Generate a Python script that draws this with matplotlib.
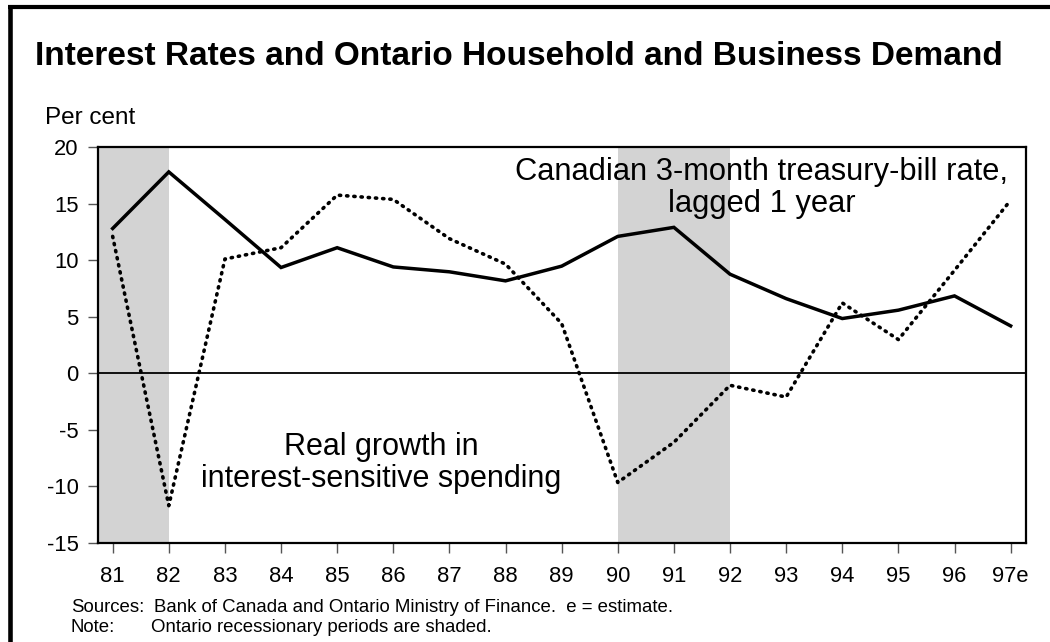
import matplotlib.pyplot as plt
from matplotlib.lines import Line2D

plt.rcParams['font.family'] = ['Liberation Sans', 'DejaVu Sans']
plt.rcParams['axes.unicode_minus'] = False

years = [81, 82, 83, 84, 85, 86, 87, 88, 89, 90, 91, 92, 93, 94, 95, 96, 97]
year_labels = ["81", "82", "83", "84", "85", "86", "87", "88", "89",
               "90", "91", "92", "93", "94", "95", "96", "97e"]
# Canadian 3-month treasury-bill rate, lagged 1 year
tbill = [12.8, 17.8, 13.6, 9.35, 11.1, 9.4, 8.97, 8.17, 9.47,
         12.1, 12.9, 8.76, 6.6, 4.84, 5.58, 6.84, 4.19]
# real growth in interest-sensitive spending
spending = [12.1, -11.7, 10.1, 11.1, 15.75, 15.37, 11.9, 9.65, 4.4,
            -9.65, -6.1, -1.06, -2.1, 6.22, 2.98, 9.1, 15.3]
# Ontario recessions (shaded)
recessions = [(80, 82), (90, 92)]
y_ticks = [-15, -10, -5, 0, 5, 10, 15, 20]

fig = plt.figure(figsize=(10.5, 6.42), dpi=100)
ax = fig.add_axes([0.0933, 0.1542, 0.8838, 0.6168])

for start, end in recessions:
    ax.axvspan(start, end, color="#d3d3d3", lw=0, zorder=0)

ax.axhline(0, color="black", lw=1.3, zorder=1)
ax.plot(years, tbill, color="black", lw=2.5, solid_joinstyle="miter", zorder=3)
ax.plot(years, spending, color="black", lw=2.6, dashes=(0.35, 1.65),
        dash_capstyle="round", zorder=3)

ax.set_xlim(80.738, 97.273)
ax.set_ylim(-15, 20)
ax.set_xticks(years, year_labels)
ax.set_yticks(y_ticks)
ax.tick_params(axis="both", labelsize=15.8, color="#555555", width=1, length=7)
ax.tick_params(axis="x", pad=9.5)
ax.tick_params(axis="y", pad=7)
for side in ax.spines.values():
    side.set_linewidth(1.6)

ax.text(92.56, 16.4, "Canadian 3-month treasury-bill rate,\nlagged 1 year",
        ha="center", va="center", fontsize=22.2, linespacing=1.1)
ax.text(85.79, -7.92, "Real growth in\ninterest-sensitive spending",
        ha="center", va="center", fontsize=22.0, linespacing=1.1)

fig.text(0.0333, 0.8988, "Interest Rates and Ontario Household and Business Demand",
         fontsize=24.0, fontweight="bold", va="baseline")
fig.text(0.0429, 0.8069, "Per cent", fontsize=17.5, va="baseline")

fig.text(0.0676, 1 - 612.3 / 642, "Sources:", fontsize=13.4, va="baseline")
fig.text(154 / 1050, 1 - 612.3 / 642,
         "Bank of Canada and Ontario Ministry of Finance.  e = estimate.",
         fontsize=13.4, va="baseline")
fig.text(0.0676, 1 - 632 / 642, "Note:", fontsize=13.4, va="baseline")
fig.text(151 / 1050, 1 - 632 / 642, "Ontario recessionary periods are shaded.",
         fontsize=13.4, va="baseline")

# frame along the left and top edges
fig.add_artist(Line2D([10.3 / 1050, 10.3 / 1050], [0, 1 - 5 / 642],
                      transform=fig.transFigure, color="black", lw=3.3,
                      solid_capstyle="butt"))
fig.add_artist(Line2D([8 / 1050, 1], [1 - 7 / 642, 1 - 7 / 642],
                      transform=fig.transFigure, color="black", lw=3.0,
                      solid_capstyle="butt"))

fig.savefig("out.png", dpi=100)
